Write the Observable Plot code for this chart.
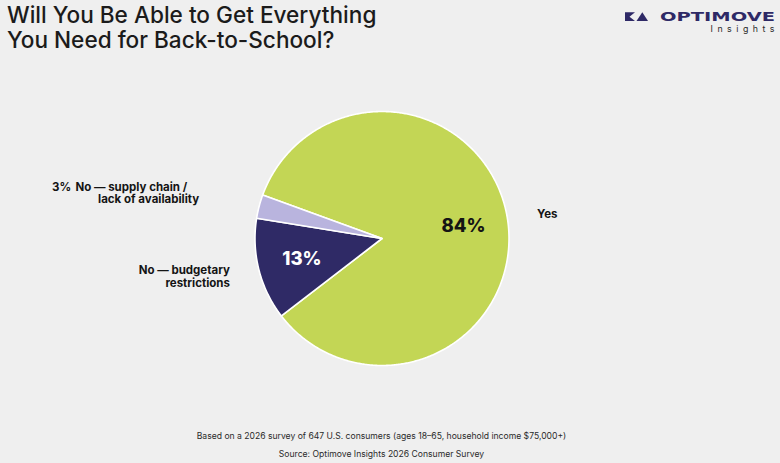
<!DOCTYPE html>
<html><head><meta charset="utf-8">
<script src="https://cdn.jsdelivr.net/npm/d3@7"></script>
<script src="https://cdn.jsdelivr.net/npm/@observablehq/plot@0.6"></script>
<style>
html,body{margin:0;padding:0;background:#efefef;}
#wrap{position:relative;width:780px;height:463px;overflow:hidden;font-family:Inter,"Noto Sans",sans-serif;}
.tl{position:absolute;left:7px;font-size:22.6px;font-weight:500;line-height:24px;height:24px;color:#1b1b1b;white-space:nowrap;}
#t1{top:3px;} #t2{top:27.5px;}
#logo{position:absolute;left:620px;top:6px;width:160px;height:30px;}
#chart{position:absolute;left:0;top:60px;}
#caption{position:absolute;left:0;top:427px;width:763px;text-align:center;font-size:8.6px;color:#2a2a2a;line-height:18px;}
</style></head>
<body><div id="wrap">
<div class="tl" id="t1">Will You Be Able to Get Everything</div>
<div class="tl" id="t2">You Need for Back-to-School?</div>
<svg id="logo" viewBox="620 6 160 30" width="160" height="30">
  <polygon points="625,12.3 635,12.3 629.5,16.7 635,21 625,21" fill="#2e2966"/>
  <polygon points="636.5,21 642.3,12.3 648,21" fill="#2e2966"/>
  <text x="660" y="21" font-family="'DejaVu Sans',sans-serif" font-weight="700" font-size="12.4" fill="#2e2966" textLength="115" lengthAdjust="spacingAndGlyphs">OPTIMOVE</text>
  <text x="710.5" y="32" font-family="Inter,sans-serif" font-weight="400" font-size="8.8" fill="#2a2a2a" textLength="64" lengthAdjust="spacing">Insights</text>
</svg>
<div id="chart"></div>
<div id="caption">Based on a 2026 survey of 647 U.S. consumers (ages 18–65, household income $75,000+)<br>Source: Optimove Insights 2026 Consumer Survey</div>
</div>
<script>
// ---- data ----
const categories = ["Yes", "No — budgetary restrictions", "No — supply chain / lack of availability"];
const values = [84, 13, 3];
const pctLabels = ["84%", "13%", "3%"];
const outerLabels = [["Yes"], ["No — budgetary", "restrictions"], ["No — supply chain /", "lack of availability"]];
const colors = ["#c3d655", "#2f2a66", "#b9b4de"];
const startDeg = -70;

// ---- layout ----
const W = 780, H = 360, cx = 381.5, cy = 178, R = 127;
const rad = Math.PI / 180;
const arcs = d3.pie().sort(null).startAngle(startDeg * rad).endAngle((startDeg + 360) * rad)(values);

const poly = [];
arcs.forEach((a, i) => {
  poly.push({cat: categories[i], color: colors[i], x: 0, y: 0});
  const n = Math.max(4, Math.ceil((a.endAngle - a.startAngle) / (0.5 * rad)));
  for (let k = 0; k <= n; k++) {
    const t = a.startAngle + (a.endAngle - a.startAngle) * k / n;
    poly.push({cat: categories[i], color: colors[i], x: Math.sin(t), y: Math.cos(t)});
  }
});
// small slice: label nudged further out, its percentage placed before the first label line
const nudge = [[0, 0], [0, 0], [-31, 5.5]];
const lineNudge = [[0], [0, 0], [-12, 0]];   // px, per line
const minShare = 5;       // slices below this share get their % outside
const pctGap = 128;       // px left of the outer label anchor
const lineH = 12.6;
const labels = arcs.map((a, i) => {
  const m = (a.startAngle + a.endAngle) / 2;
  return {i, cat: categories[i], pct: pctLabels[i], small: values[i] < minShare, sx: Math.sin(m), cy: Math.cos(m)};
});
const outer = labels.flatMap(d => outerLabels[d.i].map((t, j, arr) => ({
  ...d, text: t, j,
  ox: nudge[d.i][0] / R,
  lx: lineNudge[d.i][j] / R,
  oy: (nudge[d.i][1] - (j - (arr.length - 1) / 2) * lineH) / R
})));
const rIn = 0.65, rOut = 1.235;
const lbl = {fill: "#141414", fontSize: 11.5, fontWeight: 700};

const chart = Plot.plot({
  width: W, height: H,
  marginTop: 0, marginRight: 0, marginBottom: 0, marginLeft: 0,
  style: {background: "transparent", fontFamily: "Inter, sans-serif"},
  x: {domain: [-cx / R, (W - cx) / R], axis: null},
  y: {domain: [-(H - cy) / R, cy / R], axis: null},
  color: {type: "identity"},
  marks: [
    Plot.line(poly, {x: "x", y: "y", z: "cat", fill: "color", stroke: "white", strokeWidth: 1.6, curve: "linear-closed"}),
    Plot.text(labels, {filter: d => !d.small, x: d => rIn * d.sx, y: d => rIn * d.cy, text: "pct",
      fill: d => d.i === 1 ? "#ffffff" : "#141414", fontSize: 18.5, fontWeight: 800}),
    Plot.text(outer, {filter: d => d.small && d.j === 0, x: d => rOut * d.sx + d.ox - pctGap / R, y: d => rOut * d.cy + d.oy,
      text: "pct", textAnchor: "end", ...lbl}),
    Plot.text(outer, {filter: d => d.sx > 0, x: d => rOut * d.sx + d.ox + d.lx, y: d => rOut * d.cy + d.oy, text: "text",
      textAnchor: "start", ...lbl}),
    Plot.text(outer, {filter: d => d.sx < 0, x: d => rOut * d.sx + d.ox + d.lx, y: d => rOut * d.cy + d.oy, text: "text",
      textAnchor: "end", ...lbl})
  ]
});
document.getElementById("chart").appendChild(chart);
</script>
</body></html>
